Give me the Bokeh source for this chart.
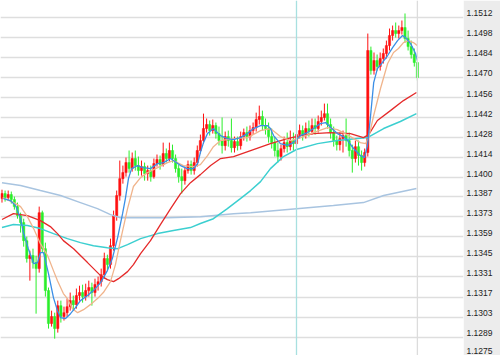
from bokeh.plotting import figure
from bokeh.models import ColumnDataSource, FixedTicker, Span, Range1d
from bokeh.embed import file_html
from bokeh.resources import INLINE

# ---------------- data ----------------
first_open = 1.13856
close = [
    1.13891, 1.13863, 1.13884, 1.13849, 1.13800, 1.13737, 1.13689, 1.13563, 1.13438, 1.13459,
    1.13410, 1.13368, 1.13758, 1.13507, 1.13215, 1.12985, 1.13034, 1.12950, 1.13110, 1.13034,
    1.13061, 1.13103, 1.13145, 1.13117, 1.13180, 1.13201, 1.13173, 1.13215, 1.13236, 1.13201,
    1.13257, 1.13277, 1.13326, 1.13438, 1.13396, 1.13528, 1.13737, 1.13877, 1.13995, 1.14037,
    1.14107, 1.14065, 1.14135, 1.14086, 1.14051, 1.14079, 1.14030, 1.14051, 1.14009, 1.14100,
    1.14128, 1.14093, 1.14170, 1.14135, 1.14191, 1.14135, 1.14065, 1.14009, 1.13981, 1.14051,
    1.14093, 1.14051, 1.14107, 1.14191, 1.14260, 1.14344, 1.14372, 1.14330, 1.14365, 1.14309,
    1.14260, 1.14225, 1.14288, 1.14260, 1.14211, 1.14253, 1.14225, 1.14288, 1.14316, 1.14288,
    1.14330, 1.14351, 1.14407, 1.14428, 1.14365, 1.14344, 1.14288, 1.14246, 1.14191, 1.14149,
    1.14204, 1.14246, 1.14218, 1.14260, 1.14239, 1.14302, 1.14330, 1.14302, 1.14344, 1.14323,
    1.14365, 1.14344, 1.14393, 1.14421, 1.14448, 1.14372, 1.14316, 1.14260, 1.14232, 1.14274,
    1.14295, 1.14260, 1.14191, 1.14135, 1.14218, 1.14156, 1.14107, 1.14177, 1.14888, 1.14748,
    1.14818, 1.14776, 1.14832, 1.14867, 1.14922, 1.14992, 1.15027, 1.15006, 1.15027, 1.15048,
    1.14971, 1.14915, 1.14860, 1.14804, 1.14699,
]
high = [
    1.13918, 1.13912, 1.13912, 1.13905, 1.13870, 1.13828, 1.13758, 1.13716, 1.13591, 1.13493,
    1.13507, 1.13458, 1.13800, 1.13772, 1.13549, 1.13236, 1.13075, 1.13061, 1.13145, 1.13145,
    1.13103, 1.13159, 1.13201, 1.13180, 1.13229, 1.13249, 1.13256, 1.13263, 1.13284, 1.13270,
    1.13298, 1.13312, 1.13368, 1.13479, 1.13465, 1.13577, 1.13772, 1.13912, 1.14121, 1.14086,
    1.14142, 1.14191, 1.14177, 1.14191, 1.14149, 1.14121, 1.14107, 1.14086, 1.14086, 1.14135,
    1.14163, 1.14156, 1.14246, 1.14205, 1.14246, 1.14232, 1.14163, 1.14093, 1.14065, 1.14079,
    1.14121, 1.14121, 1.14142, 1.14226, 1.14302, 1.14448, 1.14414, 1.14400, 1.14407, 1.14386,
    1.14358, 1.14421, 1.14323, 1.14330, 1.14414, 1.14288, 1.14288, 1.14323, 1.14344, 1.14358,
    1.14365, 1.14386, 1.14455, 1.14504, 1.14469, 1.14414, 1.14386, 1.14344, 1.14288, 1.14246,
    1.14232, 1.14288, 1.14316, 1.14330, 1.14316, 1.14400, 1.14372, 1.14365, 1.14386, 1.14400,
    1.14414, 1.14414, 1.14435, 1.14469, 1.14518, 1.14518, 1.14414, 1.14358, 1.14295, 1.14316,
    1.14330, 1.14414, 1.14316, 1.14232, 1.14260, 1.14260, 1.14191, 1.14205, 1.15006, 1.14915,
    1.14874, 1.14860, 1.14874, 1.14902, 1.14957, 1.15041, 1.15062, 1.15083, 1.15062, 1.15097,
    1.15146, 1.15027, 1.14957, 1.14902, 1.14832,
]
low = [
    1.13828, 1.13835, 1.13842, 1.13821, 1.13779, 1.13716, 1.13619, 1.13521, 1.13410, 1.13284,
    1.13368, 1.13054, 1.13340, 1.13479, 1.13173, 1.12950, 1.12964, 1.12880, 1.12922, 1.12992,
    1.13006, 1.13033, 1.13075, 1.13075, 1.13089, 1.13145, 1.13131, 1.13145, 1.13173, 1.13110,
    1.13173, 1.13215, 1.13243, 1.13298, 1.13354, 1.13368, 1.13493, 1.13702, 1.13842, 1.13960,
    1.14009, 1.14037, 1.14044, 1.14051, 1.14016, 1.14016, 1.13981, 1.13981, 1.13974, 1.13995,
    1.14079, 1.14058, 1.14079, 1.14107, 1.14114, 1.14107, 1.14037, 1.13967, 1.13891, 1.13953,
    1.14030, 1.14023, 1.14023, 1.14079, 1.14170, 1.14239, 1.14316, 1.14295, 1.14309, 1.14274,
    1.14226, 1.14170, 1.14191, 1.14218, 1.14177, 1.14177, 1.14191, 1.14198, 1.14260, 1.14253,
    1.14260, 1.14302, 1.14323, 1.14372, 1.14330, 1.14302, 1.14246, 1.14205, 1.14149, 1.14107,
    1.14121, 1.14177, 1.14177, 1.14191, 1.14191, 1.14212, 1.14274, 1.14260, 1.14274, 1.14288,
    1.14302, 1.14302, 1.14316, 1.14365, 1.14400, 1.14344, 1.14274, 1.14218, 1.14191, 1.14191,
    1.14177, 1.14218, 1.14149, 1.14037, 1.14107, 1.14086, 1.14051, 1.14079, 1.14149, 1.14720,
    1.14720, 1.14748, 1.14748, 1.14797, 1.14832, 1.14888, 1.14957, 1.14978, 1.14971, 1.14999,
    1.14943, 1.14888, 1.14832, 1.14776, 1.14678,
]

# moving averages: (bar index, price)
ma_fast_x = [0.5, 2.7, 4.4, 6.0, 6.9, 8.5, 10.2, 11.5, 12.4, 13.4, 15.0, 16.6, 17.9, 18.9, 20.5,
             22.1, 23.7, 25.3, 27.6, 29.5, 31.8, 34.0, 35.6, 37.3, 38.9, 39.8, 40.8, 41.8, 43.7,
             45.6, 47.9, 50.2, 52.1, 54.4, 55.3, 57.6, 59.8, 61.8, 63.1, 64.0, 65.0, 66.3, 68.2,
             70.5, 72.7, 74.7, 76.9, 79.2, 81.1, 83.4, 85.6, 86.6, 87.6, 89.8, 92.1, 94.0, 96.3,
             98.5, 100.5, 102.7, 104.4, 106.0, 108.2, 110.2, 111.5, 113.4, 115.6, 116.9, 117.9,
             118.9, 119.9, 121.1, 122.7, 124.4, 126.0, 127.6, 129.2, 130.2, 131.8, 133.4, 134.0]
ma_fast_y = [1.13856, 1.13842, 1.13807, 1.13716, 1.13619, 1.13507, 1.13403, 1.13410, 1.13479,
             1.13479, 1.13333, 1.13166, 1.13075, 1.13027, 1.13020, 1.13054, 1.13096, 1.13145,
             1.13180, 1.13215, 1.13270, 1.13354, 1.13438, 1.13584, 1.13751, 1.13856, 1.13995,
             1.14065, 1.14086, 1.14072, 1.14065, 1.14100, 1.14107, 1.14135, 1.14121, 1.14086,
             1.14065, 1.14065, 1.14100, 1.14177, 1.14246, 1.14309, 1.14344, 1.14295, 1.14274,
             1.14267, 1.14281, 1.14309, 1.14344, 1.14365, 1.14365, 1.14344, 1.14295, 1.14239,
             1.14226, 1.14246, 1.14295, 1.14316, 1.14344, 1.14379, 1.14386, 1.14351, 1.14309,
             1.14288, 1.14260, 1.14205, 1.14156, 1.14142, 1.14225, 1.14435, 1.14664, 1.14762,
             1.14804, 1.14853, 1.14908, 1.14957, 1.14992, 1.14978, 1.14936, 1.14867, 1.14818]

ma_mid_x = [0.2, 4.4, 6.0, 8.2, 10.2, 12.4, 14.7, 16.6, 17.9, 19.8, 21.1, 22.7, 24.4, 26.3, 28.5,
            30.8, 32.7, 35.0, 36.6, 38.2, 39.5, 40.5, 42.4, 44.7, 46.9, 50.2, 53.4, 55.3, 58.5,
            61.8, 64.0, 66.3, 68.2, 70.5, 74.7, 79.2, 83.4, 86.6, 89.8, 93.1, 96.3, 100.5, 105.0,
            108.2, 112.4, 115.6, 117.3, 118.3, 119.9, 122.1, 124.4, 126.3, 127.9, 129.5, 131.1,
            132.7, 134.0]
ma_mid_y = [1.13863, 1.13821, 1.13800, 1.13730, 1.13647, 1.13542, 1.13459, 1.13354, 1.13284,
            1.13194, 1.13159, 1.13089, 1.13061, 1.13082, 1.13117, 1.13159, 1.13201, 1.13277,
            1.13396, 1.13563, 1.13689, 1.13786, 1.13940, 1.14002, 1.14037, 1.14072, 1.14107,
            1.14121, 1.14086, 1.14079, 1.14093, 1.14156, 1.14218, 1.14260, 1.14274, 1.14281,
            1.14330, 1.14344, 1.14288, 1.14260, 1.14281, 1.14316, 1.14351, 1.14337, 1.14288,
            1.14246, 1.14239, 1.14281, 1.14435, 1.14623, 1.14797, 1.14874, 1.14902, 1.14943,
            1.14957, 1.14943, 1.14922]

ma_slow_x = [0.0, 3.7, 8.2, 12.4, 15.6, 17.9, 19.8, 23.1, 27.6, 31.8, 34.0, 36.0, 37.6, 40.5,
             42.4, 44.7, 47.9, 51.1, 54.4, 57.6, 60.8, 64.0, 67.3, 70.5, 74.7, 80.2, 86.6, 92.1,
             96.3, 100.5, 106.0, 112.4, 116.6, 118.3, 121.1, 125.3, 129.5, 133.7]
ma_slow_y = [1.13710, 1.13751, 1.13737, 1.13702, 1.13661, 1.13612, 1.13563, 1.13507, 1.13410,
             1.13319, 1.13291, 1.13277, 1.13298, 1.13347, 1.13396, 1.13472, 1.13563, 1.13675,
             1.13786, 1.13891, 1.13967, 1.14023, 1.14086, 1.14135, 1.14149, 1.14191, 1.14239,
             1.14274, 1.14295, 1.14309, 1.14316, 1.14309, 1.14281, 1.14302, 1.14400, 1.14469,
             1.14539, 1.14595]

ma_long_x = [0.0, 3.7, 8.2, 12.4, 16.6, 21.1, 25.3, 29.5, 34.0, 37.3, 40.5, 44.7, 50.2, 55.3,
             60.8, 64.0, 68.2, 72.7, 76.9, 80.2, 83.4, 86.6, 90.8, 95.0, 101.8, 108.2, 114.7,
             117.9, 123.1, 128.5, 133.7]
ma_long_y = [1.13654, 1.13675, 1.13668, 1.13647, 1.13612, 1.13577, 1.13549, 1.13528, 1.13514,
             1.13507, 1.13535, 1.13577, 1.13612, 1.13633, 1.13654, 1.13682, 1.13716, 1.13786,
             1.13856, 1.13912, 1.13974, 1.14065, 1.14149, 1.14198, 1.14239, 1.14260, 1.14274,
             1.14281, 1.14344, 1.14393, 1.14448]

ma_vlong_x = [0.0, 6.0, 12.4, 18.9, 25.3, 30.8, 35.0, 38.2, 44.7, 53.4, 64.0, 74.7, 80.2, 95.0,
              106.9, 116.6, 123.1, 133.7]
ma_vlong_y = [1.13967, 1.13947, 1.13912, 1.13877, 1.13828, 1.13786, 1.13744, 1.13723, 1.13723,
              1.13723, 1.13730, 1.13751, 1.13758, 1.13786, 1.13807, 1.13828, 1.13877, 1.13926]

grid_values = [1.1512, 1.1498, 1.1484, 1.1470, 1.1456, 1.1442, 1.1428, 1.1414, 1.1400,
               1.1387, 1.1373, 1.1359, 1.1345, 1.1331, 1.1317, 1.1303, 1.1289, 1.1275]
tick_labels = ["1.1512", "1.1498", "1.1484", "1.1470", "1.1456", "1.1442", "1.1428", "1.1414",
               "1.1400", "1.1387", "1.1373", "1.1359", "1.1345", "1.1331", "1.1317", "1.1303",
               "1.1289", "1.1275"]
separator_bars = [95, 134]

# ---------------- build ----------------
Y0, Y1 = 1.127625, 1.152364
H = 355
px = (Y1 - Y0) / H
# price labels sit a few pixels above their grid line (as in the terminal)
label_pos = [v + 4 * px for v in grid_values]
label_pos[-1] = max(label_pos[-1], Y0 + 5 * px)

n = len(close)
idx = list(range(n))
open_ = [first_open] + close[:-1]
up = [c >= o for o, c in zip(open_, close)]
RED = "#ff1010"
GREEN = "#2aee2a"
colors = [RED if u else GREEN for u in up]
src = ColumnDataSource(dict(
    x=idx, o=open_, c=close, h=high, l=low,
    top=[max(o, c) for o, c in zip(open_, close)],
    bot=[min(o, c) for o, c in zip(open_, close)],
    col=colors,
))

p = figure(width=500, height=H, output_backend="svg", toolbar_location=None,
           x_range=Range1d(-0.48, 148.87), y_range=Range1d(Y0, Y1),
           x_axis_location=None, y_axis_location="right",
           min_border_left=0, min_border_top=0, min_border_bottom=0, min_border_right=37)
p.outline_line_color = None
p.background_fill_color = "white"
p.border_fill_color = "#ececec"
p.xgrid.visible = False
p.ygrid.ticker = FixedTicker(ticks=grid_values[:-1])
p.ygrid.grid_line_color = "#dedede"
p.ygrid.grid_line_width = 1.3

ax = p.yaxis[0]
ax.ticker = FixedTicker(ticks=label_pos)
ax.major_label_overrides = {v: t for v, t in zip(label_pos, tick_labels)}
ax.axis_line_color = None
ax.major_tick_line_color = None
ax.minor_tick_line_color = None
ax.major_tick_out = 0
ax.major_tick_in = 0
ax.major_label_standoff = 3
ax.major_label_text_font = "Liberation Sans"
ax.major_label_text_font_size = "8.5px"
ax.major_label_text_color = "#222222"

for b, colr in zip(separator_bars, ["#a8e0e0", "#dcdcdc"]):
    p.add_layout(Span(location=b, dimension="height", line_color=colr, line_width=1.3))

p.segment(x0="x", y0="h", x1="x", y1="l", color="col", line_width=1, source=src)
p.vbar(x="x", width=0.72, top="top", bottom="bot", fill_color="col", line_color="col",
       line_width=0.5, source=src)

p.line(ma_vlong_x, ma_vlong_y, line_color="#a8c4e0", line_width=1.5)
p.line(ma_long_x, ma_long_y, line_color="#3ccfd0", line_width=1.5)
p.line(ma_slow_x, ma_slow_y, line_color="#e52a2a", line_width=1.3)
p.line(ma_mid_x, ma_mid_y, line_color="#f0b48c", line_width=1.3)
p.line(ma_fast_x, ma_fast_y, line_color="#3a8ee6", line_width=1.3)

open("out.html", "w").write(file_html(p, INLINE))
